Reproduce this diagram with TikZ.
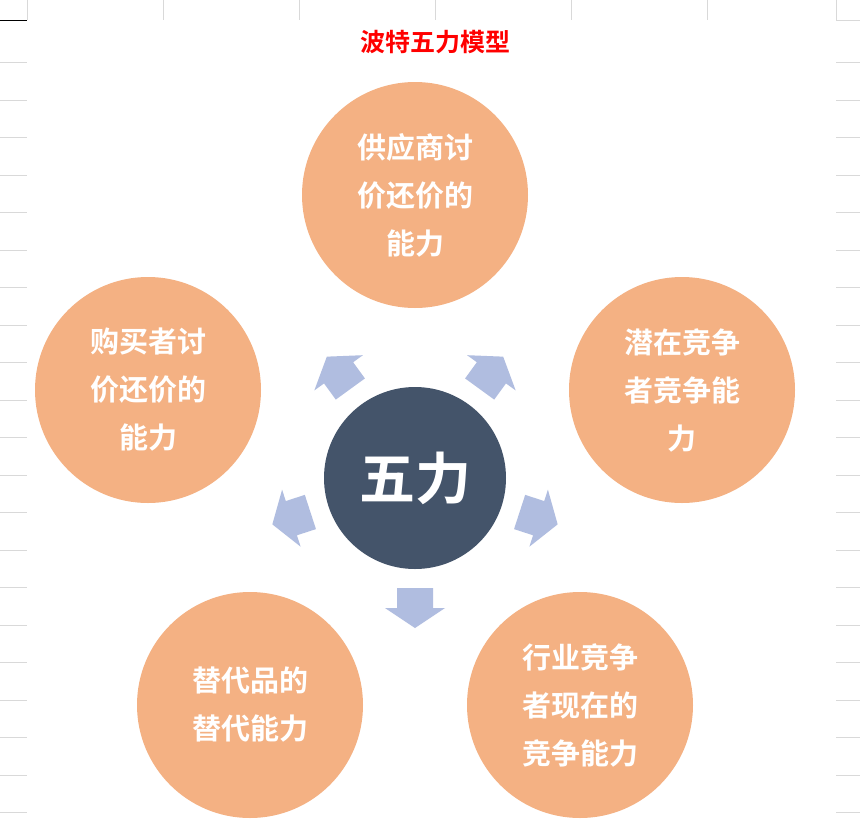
\documentclass[tikz,border=0pt]{standalone}
\usepackage{fontspec}
\newfontfamily\cjk{Noto Sans CJK SC}[BoldFont={Noto Sans CJK SC Bold}]
\definecolor{org}{HTML}{F4B183}
\definecolor{dk}{HTML}{44546A}
\definecolor{arr}{HTML}{B0BDE0}
\definecolor{grid}{HTML}{D9D9D9}
\begin{document}
\begin{tikzpicture}[x=1pt,y=-1pt,
  outer/.style={circle,fill=org,minimum size=226pt,inner sep=0pt,align=center,text=white,font=\cjk\bfseries\fontsize{29}{48}\selectfont},
  fat/.style={fill=arr}]
\useasboundingbox (0,0) rectangle (860,828);
\fill[white] (0,0) rectangle (860,828);
% spreadsheet grid
\foreach \y in {20,62,100,137,175,212,250,287,325,362,400,437,475,512,550,587,625,662,700,737,775,812}{
  \draw[grid,line width=0.8pt] (0,\y) -- (27,\y);
  \draw[grid,line width=0.8pt] (836,\y) -- (860,\y);}
\draw[black,line width=0.8pt] (0,20) -- (27,20);
\foreach \x in {27,163,299,435,571,707,836}{\draw[grid,line width=0.8pt] (\x,0) -- (\x,20);}
\node[text=red,font=\cjk\bfseries\fontsize{25}{30}\selectfont] (title) at (435,42) {波特五力模型};
\node[circle,fill=dk,minimum size=182pt,inner sep=0pt,text=white,font=\cjk\bfseries\fontsize{56}{60}\selectfont] (c) at (415,478) {五力};
\node[outer] (top) at (415,195) {供应商讨\\价还价的\\能力};
\node[outer] (left) at (148,390) {购买者讨\\价还价的\\能力};
\node[outer] (right) at (682,390) {潜在竞争\\者竞争能\\力};
\node[outer] (bl) at (250,705) {替代品的\\替代能力};
\node[outer] (br) at (580,705) {行业竞争\\者现在的\\竞争能力};
\foreach \a in {90,162,234,306,18}{
  \begin{scope}[shift={(c.center)},rotate=-\a]
    \fill[arr] (110,-18) -- (130,-18) -- (130,-30) -- (150,0) -- (130,30) -- (130,18) -- (110,18) -- cycle;
  \end{scope}}
\end{tikzpicture}
\end{document}
